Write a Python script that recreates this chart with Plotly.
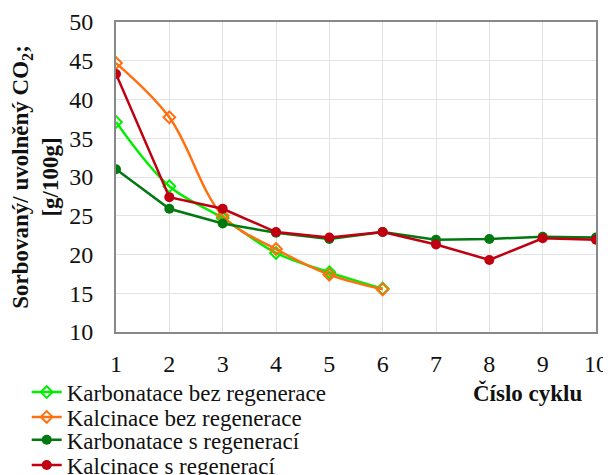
import plotly.graph_objects as go

cycles_bez = [1, 2, 3, 4, 5, 6]
cycles_s = [1, 2, 3, 4, 5, 6, 7, 8, 9, 10]
karb_bez = [37.1, 28.8, 24.7, 20.2, 17.7, 15.6]
kalc_bez = [44.7, 37.7, 25.0, 20.7, 17.4, 15.5]
karb_s = [31.0, 25.9, 24.0, 22.8, 22.0, 22.9, 21.9, 22.0, 22.3, 22.2]
kalc_s = [43.3, 27.4, 25.9, 22.9, 22.2, 22.9, 21.3, 19.3, 22.1, 21.9]

FONT = "Liberation Serif"

fig = go.Figure()
fig.add_trace(go.Scatter(x=cycles_bez, y=karb_bez, name="Karbonatace bez regenerace", legend="legend",
                         mode="lines+markers", line=dict(color="#00ee00", width=2.5, shape="spline"),
                         marker=dict(symbol="diamond-open", size=9, color="#00ee00", line=dict(width=2))))
fig.add_trace(go.Scatter(x=cycles_bez, y=kalc_bez, name="Kalcinace bez regenerace", legend="legend2",
                         mode="lines+markers", line=dict(color="#ff7010", width=2.5, shape="spline"),
                         marker=dict(symbol="diamond-open", size=9, color="#ff7010", line=dict(width=2))))
fig.add_trace(go.Scatter(x=cycles_s, y=karb_s, name="Karbonatace s regenerací", legend="legend3",
                         mode="lines+markers", line=dict(color="#007a10", width=2.5),
                         marker=dict(symbol="circle", size=10, color="#007a10")))
fig.add_trace(go.Scatter(x=cycles_s, y=kalc_s, name="Kalcinace s regenerací", legend="legend4",
                         mode="lines+markers", line=dict(color="#c00010", width=2.5),
                         marker=dict(symbol="circle", size=10, color="#c00010")))

def leg(y):
    return dict(x=-0.186, y=y, xanchor="left", yanchor="middle",
                font=dict(family=FONT, size=23, color="#111111"),
                itemwidth=30, bgcolor="rgba(0,0,0,0)", borderwidth=0)

fig.update_layout(
    width=611, height=475,
    margin=dict(l=108, r=23, t=14, b=151, autoexpand=False),
    paper_bgcolor="white", plot_bgcolor="white",
    font=dict(family=FONT, size=20, color="#111111"),
    showlegend=True,
    legend=leg(-0.194), legend2=leg(-0.274), legend3=leg(-0.348), legend4=leg(-0.429),
)
fig.update_xaxes(range=[1, 10], dtick=1, showgrid=True, gridcolor="#e3e3e3", gridwidth=1,
                 showline=True, linecolor="#888888", linewidth=2, mirror=True,
                 zeroline=False, ticks="", ticklabelstandoff=9,
                 tickfont=dict(family=FONT, size=24))
fig.update_yaxes(range=[10, 50], dtick=5, showgrid=True, gridcolor="#e3e3e3", gridwidth=1,
                 showline=True, linecolor="#888888", linewidth=2, mirror=True,
                 zeroline=False, ticks="", ticklabelstandoff=16,
                 tickfont=dict(family=FONT, size=24),
                 title=dict(text="<b>Sorbovaný/ uvolněný CO<sub>2</sub>;<br>[g/100g]</b>",
                            font=dict(family=FONT, size=23), standoff=4))
fig.add_annotation(text="<b>Číslo cyklu</b>", xref="paper", yref="paper",
                   x=0.858, y=-0.197, xanchor="center", yanchor="middle", showarrow=False,
                   font=dict(family=FONT, size=23))

fig.write_html("out.html")
